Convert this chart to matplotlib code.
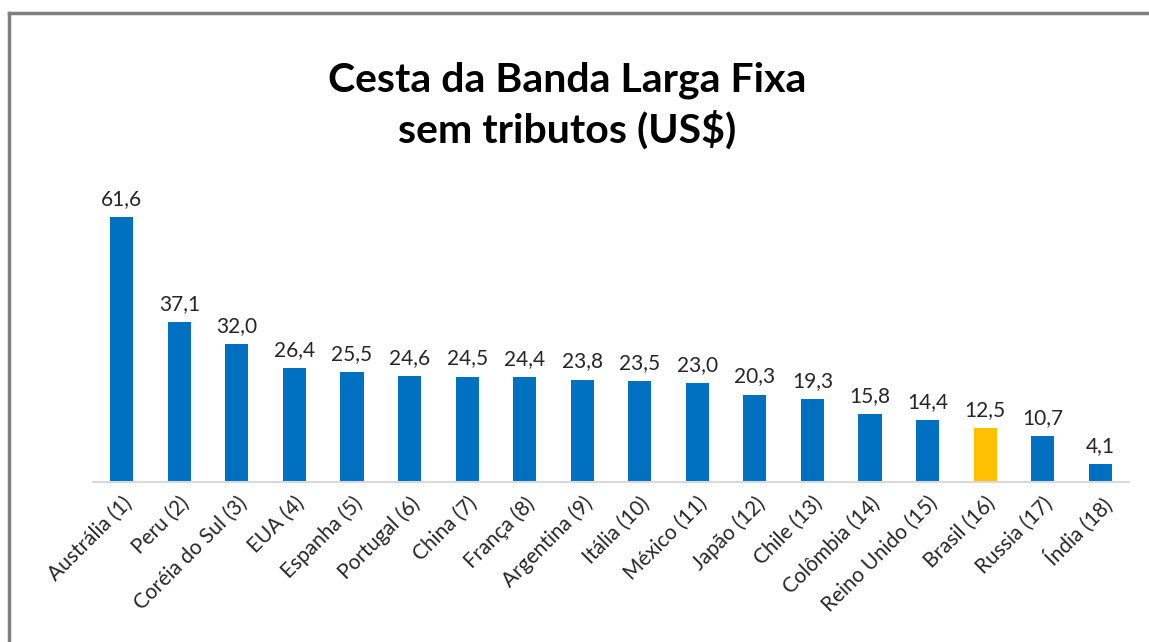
import matplotlib
matplotlib.use("Agg")
import matplotlib.pyplot as plt
from matplotlib.lines import Line2D

countries = ["Austrália (1)", "Peru (2)", "Coréia do Sul (3)", "EUA (4)", "Espanha (5)",
             "Portugal (6)", "China (7)", "França (8)", "Argentina (9)", "Itália (10)",
             "México (11)", "Japão (12)", "Chile (13)", "Colômbia (14)", "Reino Unido (15)",
             "Brasil (16)", "Russia (17)", "Índia (18)"]
values = [61.6, 37.1, 32.0, 26.4, 25.5, 24.6, 24.5, 24.4, 23.8, 23.5, 23.0, 20.3,
          19.3, 15.8, 14.4, 12.5, 10.7, 4.1]
highlight = "Brasil (16)"

plt.rcParams['font.family'] = ['Lato', 'DejaVu Sans']

W, H = 1149, 642
fig = plt.figure(figsize=(W/100, H/100), dpi=100)
ax = fig.add_axes([93/W, 1-482/H, 1036/W, 301/H])

colors = ["#FFC000" if c == highlight else "#0070C0" for c in countries]
x = list(range(len(countries)))
bars = ax.bar(x, values, width=0.4, color=colors)
ax.set_xlim(-0.5, len(countries)-0.5)
ax.set_ylim(0, 70)

for xi, v in zip(x, values):
    ax.annotate(f"{v:.1f}".replace(".", ","), (xi, v), xytext=(0, 6), textcoords="offset points",
                ha="center", va="bottom", fontsize=15, color="#262626")

ax.set_xticks(x)
ax.set_xticklabels(countries, rotation=45, ha="right", va="top", rotation_mode="anchor",
                   fontsize=15, color="#262626")
ax.tick_params(axis="x", length=0, pad=8)
ax.set_yticks([])
for s in ["top", "right", "left"]:
    ax.spines[s].set_visible(False)
ax.spines["bottom"].set_color("#D9D9D9")
ax.spines["bottom"].set_linewidth(1.5)

fig.text(567/W, 1-80/H, "Cesta da Banda Larga Fixa", ha="center", va="center",
         fontsize=29.5, fontweight="bold", color="black")
fig.text(567/W, 1-130/H, "sem tributos (US$)", ha="center", va="center",
         fontsize=29.5, fontweight="bold", color="black")

# partial border (left and top)
fig.add_artist(Line2D([9/W, 9/W], [0, 1-12.5/H], color="#808080", linewidth=2.5,
                      transform=fig.transFigure))
fig.add_artist(Line2D([9/W, 1], [1-12.5/H, 1-12.5/H], color="#808080", linewidth=2.5,
                      transform=fig.transFigure))

fig.savefig("out.png", dpi=100)
